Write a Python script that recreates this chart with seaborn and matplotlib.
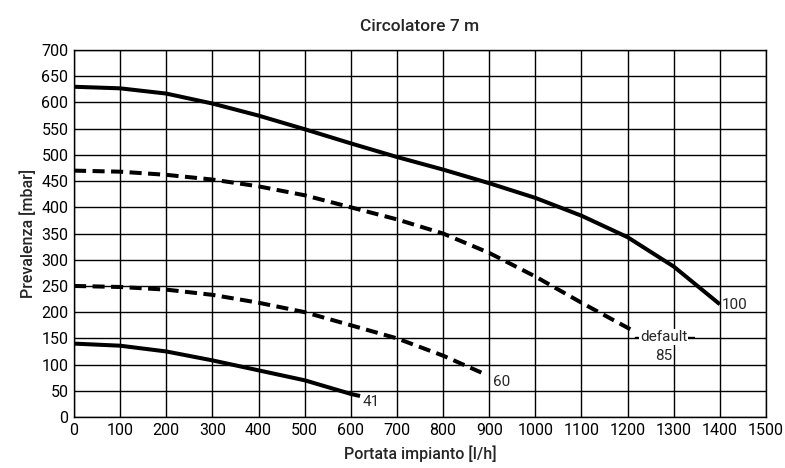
import numpy as np
import pandas as pd
import matplotlib
matplotlib.use("Agg")
import matplotlib.pyplot as plt
import seaborn as sns

# --- Dati ---
portata_100 = [0, 100, 200, 300, 400, 500, 600, 700, 800, 900, 1000, 1100, 1200, 1300, 1400]
prev_100 = [630, 627, 617, 598, 575, 549, 522, 496, 472, 446, 418, 384, 343, 287, 215]

portata_85 = [0, 100, 200, 300, 400, 500, 600, 700, 800, 900, 1000, 1100, 1215]
prev_85 = [470, 468, 462, 453, 440, 423, 400, 377, 350, 313, 268, 218, 163]

portata_60 = [0, 100, 200, 300, 400, 500, 600, 700, 800, 890]
prev_60 = [250, 248, 243, 233, 218, 200, 175, 150, 117, 82]

portata_41 = [0, 100, 200, 300, 400, 500, 600, 620]
prev_41 = [140, 136, 125, 108, 89, 70, 44, 40]

x_ticks = list(range(0, 1501, 100))
y_ticks = list(range(0, 701, 50))

sns.set_style("white")
plt.rcParams['font.family'] = ['Roboto', 'DejaVu Sans']

fig = plt.figure(figsize=(7.85, 4.68), dpi=100)
ax = fig.add_axes([0.0943, 0.109, 0.8815, 0.784])

curve = [
    (portata_100, prev_100, None),
    (portata_85, prev_85, (3, 1.6)),
    (portata_60, prev_60, (3, 1.6)),
    (portata_41, prev_41, None),
]
for xs, ys, dash in curve:
    df = pd.DataFrame({'x': xs, 'y': ys})
    sns.lineplot(data=df, x='x', y='y', ax=ax, color='black', linewidth=2.9)
    l = ax.lines[-1]
    l.set_solid_capstyle('butt')
    if dash is not None:
        l.set_dashes(dash)
    l.set_zorder(3)

ax.set_xlim(0, 1500)
ax.set_ylim(0, 700)
ax.set_xticks(x_ticks)
ax.set_yticks(y_ticks)
ax.grid(True, color='black', linewidth=1.0)
ax.set_axisbelow(True)
for s in ax.spines.values():
    s.set_color('black')
    s.set_linewidth(1.0)
ax.tick_params(length=0, labelsize=11.5, colors='black', pad=4)

ax.set_xlabel('Portata impianto [l/h]', fontsize=11.5, fontweight='medium', labelpad=6)
ax.set_ylabel('Prevalenza [mbar]', fontsize=11.5, fontweight='medium', labelpad=4)
ax.set_title('Circolatore 7 m', fontsize=12.5, fontweight='medium', pad=14)

# etichette curve
ax.text(1405, 214, '100', fontsize=11, va='center', ha='left', zorder=4)
ax.text(908, 67, '60', fontsize=11, va='center', ha='left', zorder=4)
ax.text(625, 28, '41', fontsize=11, va='center', ha='left', zorder=4)
ax.plot([1215, 1345], [153, 153], color='black', linewidth=1.0, zorder=3)
ax.text(1278, 153, 'default', fontsize=11, va='center', ha='center', zorder=4,
        bbox=dict(facecolor='white', edgecolor='none', pad=0.5))
ax.text(1278, 116, '85', fontsize=11, va='center', ha='center', zorder=4,
        bbox=dict(facecolor='white', edgecolor='none', pad=0.5))

fig.savefig('out.png', dpi=100)
